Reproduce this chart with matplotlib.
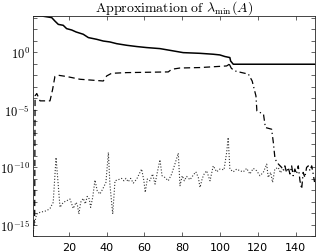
import numpy as np
import matplotlib
matplotlib.use("Agg")
import matplotlib.pyplot as plt
from matplotlib.ticker import FixedLocator, FuncFormatter

plt.rcParams['mathtext.fontset'] = 'cm'
plt.rcParams['axes.unicode_minus'] = False

# solid: current estimate (log10 values)
x_est = [1, 5.6, 10.9, 12.6, 14.4, 17.0, 18.8, 21.5, 23.8, 27.6, 30.3, 34.7, 38.2, 41.7,
         45.3, 50.6, 55.9, 61.2, 68.2, 73.5, 80.5, 89.4, 96.4, 99.9, 102.6, 105.2,
         105.6, 107.0, 150]
log_est = [3.16, 3.16, 3.02, 2.72, 2.43, 2.35, 2.06, 1.94, 1.77, 1.57, 1.28, 1.13, 0.98, 0.9,
           0.75, 0.61, 0.5, 0.41, 0.32, 0.17, -0.03, -0.09, -0.17, -0.23, -0.37, -0.46,
           -0.76, -1.04, -1.04]

# dashed: rising part
x_dash = [1, 1.9, 2.1, 3.0, 4.7, 10.0, 11.4, 12.6, 14.4, 18.8, 25.9, 38.2, 40.0, 42.6,
          50.6, 72.6, 74.4, 78.8, 89.4, 103.5, 104.9]
log_dash = [-16.0, -14.1, -3.8, -3.59, -4.23, -4.23, -3.22, -2.11, -2.0, -2.11, -2.35, -2.5,
            -2.06, -1.83, -1.77, -1.71, -1.48, -1.37, -1.33, -1.19, -1.04]

# dash-dot: falling part
x_dd = [104.9, 106, 108, 111, 115, 117, 119, 119.5, 123, 124, 127.3, 128.2, 129.1, 130.9,
        132.6, 133.5, 134.3, 135.2, 136.1, 137.0, 137.9, 138.7, 139.6, 140.5, 141.4, 142.3,
        143.2, 144.0, 144.9, 145.8, 146.7, 147.6, 148.5, 149.3, 150]
log_dd = [-1.04, -1.4, -1.63, -1.75, -1.9, -2.5, -3.8, -5.1, -5.4, -6.55, -6.7, -7.85, -9.3,
          -9.74, -10.03, -10.32, -9.89, -10.46, -10.03, -10.6, -9.89, -10.75, -10.17, -10.6,
          -9.89, -11.19, -11.9, -10.46, -10.9, -10.03, -9.89, -10.32, -9.89, -10.6, -11.3]

# dotted: noise level
x_dot = [1, 2.9, 4.7, 8.2, 10.0, 11.7, 13.2, 15.3, 17.0, 18.8, 20.6, 22.3, 23.8, 24.5, 25.3,
         26.2, 27.6, 28.7, 29.7, 30.8, 31.5, 32.6, 33.8, 35.0, 36.4, 37.9, 39.6, 40.9, 41.7,
         43.2, 44.4, 46.1, 47.9, 49.1, 50.2, 51.4, 52.7, 54.1, 55.9, 57.2, 58.5, 59.7, 60.4,
         61.5, 62.9, 64.3, 65.6, 66.8, 68.2, 69.3, 70.8, 72.6, 74.4, 76.1, 77.9, 78.8, 80.0,
         81.1, 82.3, 84.1, 85.8, 87.2, 88.5, 89.4, 90.6, 91.6, 92.9, 94.7, 96.4, 98.2, 99.9,
         102.1, 103.5, 104.3, 105.2, 107.0, 108.8, 110.5, 112.3, 114.1, 115.8, 117.6, 119.4,
         121.1, 122.9, 124.7, 125.5, 126.8, 127.8, 129.0, 130.8, 132.0, 133.0]
log_dot = [-15.6, -14.09, -13.94, -13.8, -13.6, -13.07, -9.16, -13.5, -13.07, -12.93, -12.78,
           -13.6, -13.07, -13.3, -14.09, -13.07, -12.72, -13.2, -12.55, -12.78, -13.5, -12.64,
           -11.13, -12.06, -12.35, -11.91, -11.33, -8.72, -11.48, -14.09, -11.19, -11.1,
           -10.98, -11.19, -10.98, -11.28, -10.98, -11.39, -11.04, -10.6, -10.17, -11.19,
           -12.2, -11.04, -11.19, -10.6, -11.48, -10.46, -9.36, -10.75, -10.9, -11.19, -10.6,
           -9.74, -8.78, -11.62, -10.75, -11.19, -10.81, -11.1, -10.7, -10.41, -10.9, -11.77,
           -10.98, -10.6, -10.32, -11.19, -9.89, -10.41, -10.17, -10.23, -8.72, -7.42,
           -10.17, -10.41, -10.17, -10.32, -10.41, -10.11, -10.6, -10.11, -10.32, -10.75,
           -10.46, -9.74, -10.9, -10.46, -11.33, -10.17, -10.03, -10.5, -10.2]

fig = plt.figure(figsize=(3.16, 2.53), dpi=100)
ax = fig.add_axes([0.1044, 0.0632, 0.8909, 0.8696])

k = 'black'
ax.semilogy(x_dot, 10.0**np.array(log_dot), ':', color='#333333', lw=0.8)
ax.semilogy(x_dash, 10.0**np.array(log_dash), '--', color=k, lw=0.9, dashes=(5, 3))
ax.semilogy(x_dd, 10.0**np.array(log_dd), '-.', color=k, lw=0.9, dashes=(5, 2.5, 1, 2.5))
ax.semilogy(x_est, 10.0**np.array(log_est), '-', color=k, lw=1.1)

ax.set_xlim(1, 150)
ax.set_ylim(1e-16, 10**3.16)
ax.set_xticks([20, 40, 60, 80, 100, 120, 140])
ax.yaxis.set_major_locator(FixedLocator([1e-15, 1e-10, 1e-5, 1e0]))
ax.yaxis.set_minor_locator(FixedLocator([10.0**e for e in range(-16, 4)]))
ax.yaxis.set_minor_formatter(plt.NullFormatter())
ax.yaxis.set_major_formatter(FuncFormatter(
    lambda v, p: r'$\mathsf{10^{%d}}$' % int(round(np.log10(v)))))

edge = '#262626'
for s in ax.spines.values():
    s.set_color(edge)
    s.set_linewidth(0.6)
ax.tick_params(which='both', direction='in', top=True, right=True, length=3,
               width=0.5, color=edge, labelsize=8, pad=2)
ax.tick_params(axis='y', labelsize=9)
ax.tick_params(axis='x', pad=4)

ax.set_title(r'$\mathrm{Approximation\ of\ }\lambda_{\min}(A)$', fontsize=10, pad=3)

fig.savefig('out.png', dpi=100)
